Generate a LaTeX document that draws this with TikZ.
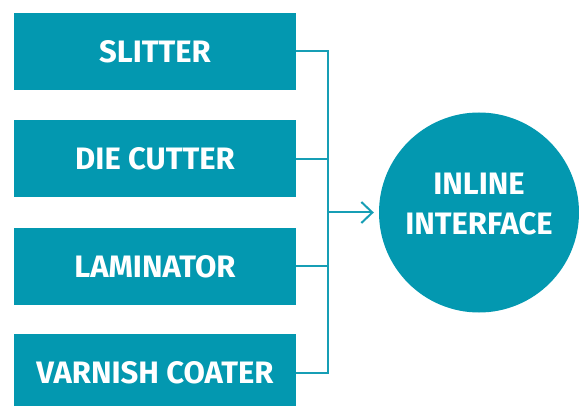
\documentclass[tikz,border=0pt]{standalone}
\usepackage{fontspec}
\setmainfont{Fira Sans}
\usetikzlibrary{positioning}
\usetikzlibrary{arrows.meta}
\definecolor{machineteal}{RGB}{3,152,176}
\definecolor{wireteal}{RGB}{22,158,181}

\begin{document}
\begin{tikzpicture}[x=1pt,y=1pt,
        machine/.style={fill=machineteal,text=white,minimum width=282pt,minimum height=77pt,inner sep=0pt,
          font=\bfseries\fontsize{31}{38}\selectfont},
        hub/.style={circle,fill=machineteal,minimum size=200pt,inner sep=0pt},
        hubtext/.style={text=white,align=center,font=\bfseries\fontsize{31}{40}\selectfont},
        wire/.style={draw=wireteal,line width=2pt},
        node distance=30pt]
        \useasboundingbox (0,0) rectangle (579,405);
        \node[machine] (slitter) at (155,353.5) {SLITTER};
        \node[machine,below=of slitter] (diecutter) {DIE CUTTER};
        \node[machine,below=of diecutter] (laminator) {LAMINATOR};
        \node[machine,below=29pt of laminator] (coater) {VARNISH COATER};
        \node[hub] (inline) at (479,192.5) {};
        \node[hubtext] (inlinetext) at ([yshift=8pt]inline.center) {INLINE\\INTERFACE};
        \coordinate (bus) at (328,192.5);

        \draw[wire] (slitter.east) -| (bus);
        \draw[wire] (diecutter.east) -| (bus);
        \draw[wire] (laminator.east) -| (bus);
        \draw[wire] (coater.east) -| (bus);
        \draw[wire,-{Straight Barb[length=11pt,width=21pt,line width=2pt]},shorten >=5pt] (bus) -- (inline.west);
      \end{tikzpicture}
\end{document}
